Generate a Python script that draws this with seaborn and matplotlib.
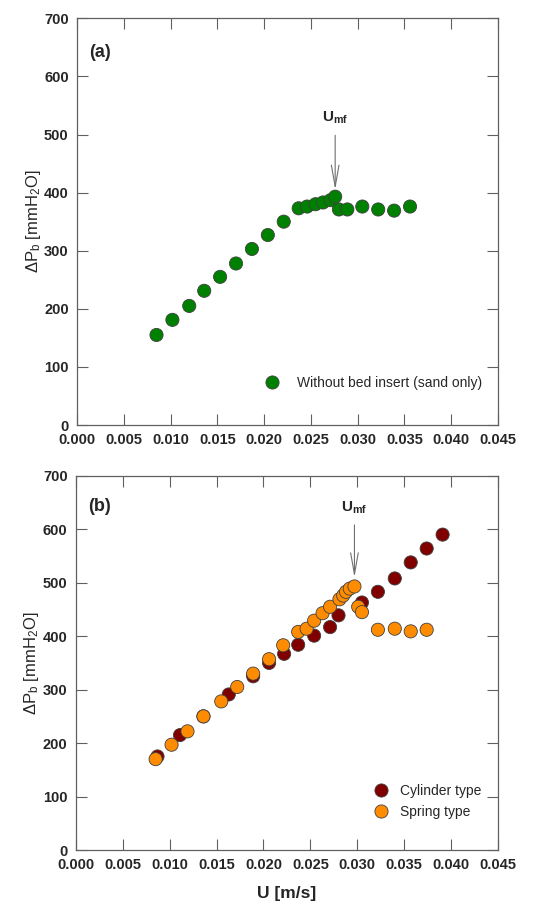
import matplotlib
matplotlib.use("Agg")
import matplotlib.pyplot as plt
import numpy as np
import pandas as pd
import seaborn as sns

# (a) sand only
u_sand = [0.0085, 0.0102, 0.0120, 0.0136, 0.0153, 0.0170, 0.0187, 0.0204, 0.0221, 0.0237,
          0.0246, 0.0255, 0.0263, 0.0271, 0.0276, 0.0280, 0.0289, 0.0305, 0.0322, 0.0339, 0.0356]
dp_sand = [155, 181, 205, 231, 255, 278, 303, 327, 350, 373,
           376, 380, 383, 387, 393, 371, 371, 376, 371, 369, 376]

# (b) bed inserts
u_cyl = [0.0087, 0.0111, 0.0136, 0.0163, 0.0189, 0.0206, 0.0222, 0.0237, 0.0254,
         0.0271, 0.0280, 0.0305, 0.0322, 0.0340, 0.0357, 0.0374, 0.0391]
dp_cyl = [175, 215, 250, 291, 325, 350, 367, 384, 401,
          417, 439, 463, 483, 508, 538, 564, 590]

u_spring = [0.0085, 0.0102, 0.0119, 0.0136, 0.0155, 0.0172, 0.0189, 0.0206, 0.0221, 0.0237,
            0.0246, 0.0254, 0.0263, 0.0271, 0.0281, 0.0285, 0.0288, 0.0292, 0.0297,
            0.0301, 0.0305, 0.0322, 0.0340, 0.0357, 0.0374]
dp_spring = [170, 197, 222, 250, 278, 305, 330, 357, 383, 408,
             414, 429, 443, 455, 469, 476, 483, 489, 493,
             455, 445, 412, 414, 409, 412]

umf_a = 0.0276
umf_b = 0.0297

x_ticks = np.arange(0, 0.0451, 0.005)
y_ticks = np.arange(0, 701, 100)

sns.set_style("ticks")
plt.rcParams["font.family"] = ["Liberation Sans", "DejaVu Sans"]
plt.rcParams["mathtext.fontset"] = "custom"
plt.rcParams["mathtext.rm"] = "Liberation Sans"
plt.rcParams["mathtext.it"] = "Liberation Sans:italic"
plt.rcParams["mathtext.bf"] = "Liberation Sans:bold"

fig = plt.figure(figsize=(5.46, 9.15), dpi=100)
ax_a = fig.add_axes([0.141, 0.5355, 0.771, 0.4445])
ax_b = fig.add_axes([0.139, 0.071, 0.773, 0.409])

df_a = pd.DataFrame({"U": u_sand, "dP": dp_sand, "case": "Without bed insert (sand only)"})
df_b = pd.concat([
    pd.DataFrame({"U": u_cyl, "dP": dp_cyl, "case": "Cylinder type"}),
    pd.DataFrame({"U": u_spring, "dP": dp_spring, "case": "Spring type"}),
])

mk = dict(s=90, edgecolor="#404040", linewidth=0.6, zorder=3)
sns.scatterplot(data=df_a, x="U", y="dP", hue="case", palette=["#008000"], ax=ax_a, **mk)
sns.scatterplot(data=df_b, x="U", y="dP", hue="case",
                palette=["#800000", "#FF8C00"], ax=ax_b, **mk)

arrow = dict(arrowstyle="->,head_length=1.4,head_width=0.25", color="#707070", lw=0.8,
             shrinkA=4, shrinkB=0)
ax_a.annotate(r"$\mathbf{U}_{\mathbf{mf}}$", xy=(umf_a, 405), xytext=(umf_a, 528),
              ha="center", va="center", fontsize=11, arrowprops=arrow)
ax_b.annotate(r"$\mathbf{U}_{\mathbf{mf}}$", xy=(umf_b, 510), xytext=(umf_b, 640),
              ha="center", va="center", fontsize=11, arrowprops=arrow)

for ax, tag in [(ax_a, "(a)"), (ax_b, "(b)")]:
    ax.set_xlim(0, 0.045)
    ax.set_ylim(0, 700)
    ax.set_xticks(x_ticks)
    ax.set_yticks(y_ticks)
    ax.set_xticklabels([f"{v:.3f}" for v in x_ticks], fontweight="bold", fontsize=10.5)
    ax.set_yticklabels([f"{v:d}" for v in y_ticks], fontweight="bold", fontsize=10.5)
    ax.tick_params(direction="in", top=True, right=True, length=8, width=0.8,
                   color="#606060", pad=6)
    for sp in ax.spines.values():
        sp.set_visible(True)
        sp.set_color("#606060")
        sp.set_linewidth(0.9)
    ax.set_ylabel(r"$\Delta$P$_{\mathrm{b}}$ [mmH$_2$O]", fontsize=12, labelpad=1)
    ax.text(0.03, 0.905, tag, transform=ax.transAxes, fontsize=13, fontweight="bold")

ax_a.set_xlabel("")
ax_b.set_xlabel("U [m/s]", fontsize=12.5, fontweight="bold", labelpad=10)

ax_a.legend(loc="center left", bbox_to_anchor=(0.40, 0.103), frameon=False,
            fontsize=10, handletextpad=0.8)
ax_b.legend(loc="center left", bbox_to_anchor=(0.66, 0.13), frameon=False,
            fontsize=10, handletextpad=0.4, labelspacing=0.5)

fig.savefig("out.png", dpi=100)
